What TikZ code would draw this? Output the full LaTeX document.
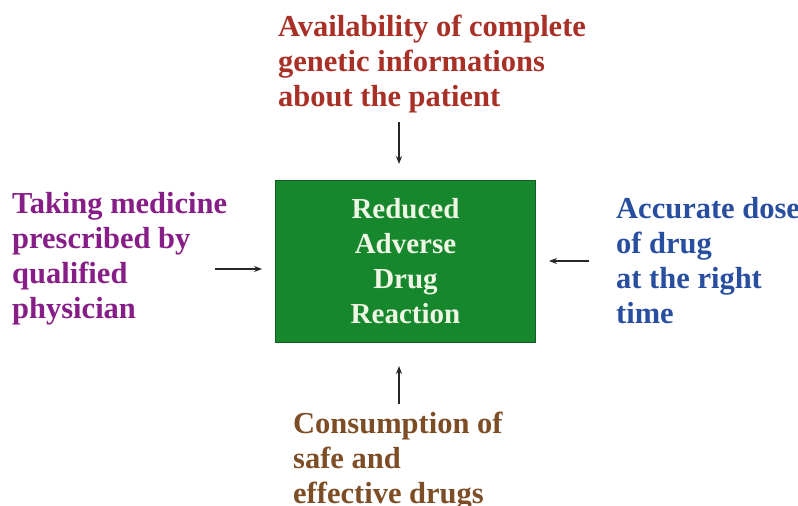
\documentclass[tikz,border=0pt]{standalone}
\usepackage{fontspec}
\setmainfont{Liberation Serif}
\usetikzlibrary{arrows.meta}
\definecolor{topc}{RGB}{168,48,38}
\definecolor{leftc}{RGB}{135,30,135}
\definecolor{rightc}{RGB}{40,78,160}
\definecolor{botc}{RGB}{125,78,38}
\definecolor{boxg}{RGB}{22,135,45}
\definecolor{boxt}{RGB}{238,246,228}
\tikzset{
  lbl/.style={inner sep=0pt, anchor=base west, align=left,
    font=\fontsize{30.5}{35}\selectfont\bfseries},
  mainbox/.style={draw=boxg!70!black, line width=1pt, fill=boxg,
    minimum width=260pt, minimum height=162pt, inner sep=0pt,
    align=center, text=boxt, font=\fontsize{29}{35}\selectfont\bfseries},
  arr/.style={-{Stealth[length=8pt,width=6pt]}, line width=1.1pt, black!85}
}
\begin{document}
\begin{tikzpicture}[x=1pt,y=-1pt]
\useasboundingbox (0,0) rectangle (798,506);
\fill[white] (0,0) rectangle (798,506);
\node[mainbox] (box) at (405.5,261.5) {Reduced\\Adverse\\Drug\\Reaction};
\node[lbl, text=topc] (top) at (278,106) {Availability of complete\\genetic informations\\about the patient};
\node[lbl, text=leftc] (left) at (12,318) {Taking medicine\\prescribed by\\qualified\\physician};
\node[lbl, text=rightc] (right) at (616,323) {Accurate dose\\of drug\\at the right\\time};
\node[lbl, text=botc] (bot) at (293,503) {Consumption of\\safe and\\effective drugs};
\coordinate (t1) at (399,122); \coordinate (t2) at (399,164);
\coordinate (l1) at (215,269); \coordinate (l2) at (262,269);
\coordinate (r1) at (589,261); \coordinate (r2) at (549,261);
\coordinate (b1) at (399,404); \coordinate (b2) at (399,366);
\draw[arr] (t1) -- (t2);
\draw[arr] (l1) -- (l2);
\draw[arr] (r1) -- (r2);
\draw[arr] (b1) -- (b2);
\end{tikzpicture}
\end{document}
